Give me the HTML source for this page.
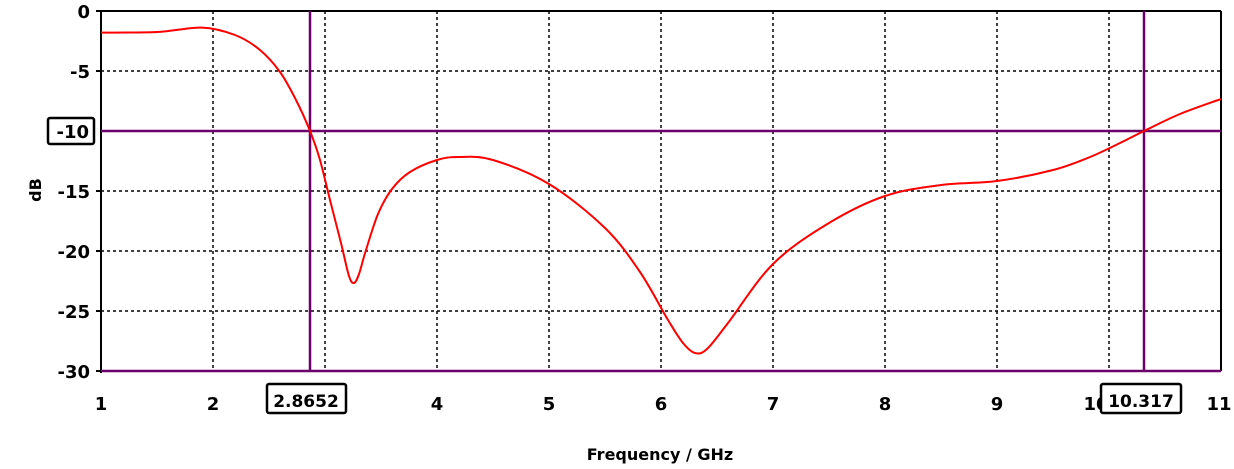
<!DOCTYPE html>
<html><head><style>body{margin:0;background:#fff}svg{display:block}text{font-family:"DejaVu Sans","Liberation Sans",sans-serif;font-weight:bold;fill:#000}</style></head>
<body>
<svg width="1234" height="469" xmlns="http://www.w3.org/2000/svg">
<g stroke="#000" stroke-width="1.5" stroke-dasharray="3,3">
<line x1="213" y1="11" x2="213" y2="371"/><line x1="325" y1="11" x2="325" y2="371"/><line x1="437" y1="11" x2="437" y2="371"/><line x1="549" y1="11" x2="549" y2="371"/><line x1="661" y1="11" x2="661" y2="371"/><line x1="773" y1="11" x2="773" y2="371"/><line x1="885" y1="11" x2="885" y2="371"/><line x1="997" y1="11" x2="997" y2="371"/><line x1="1109" y1="11" x2="1109" y2="371"/>
<line x1="101" y1="71" x2="1221" y2="71"/><line x1="101" y1="191" x2="1221" y2="191"/><line x1="101" y1="251" x2="1221" y2="251"/><line x1="101" y1="311" x2="1221" y2="311"/>
</g>
<g stroke="#000" stroke-width="2"><line x1="101" y1="11" x2="1221" y2="11"/><line x1="101" y1="11" x2="101" y2="373"/><line x1="1221" y1="11" x2="1221" y2="371"/>
<line x1="96" y1="11" x2="101" y2="11"/><line x1="96" y1="71" x2="101" y2="71"/><line x1="96" y1="191" x2="101" y2="191"/><line x1="96" y1="251" x2="101" y2="251"/><line x1="96" y1="311" x2="101" y2="311"/><line x1="96" y1="371" x2="101" y2="371"/></g>
<g stroke="#6b006b" stroke-width="2.5"><line x1="101" y1="131" x2="1221" y2="131"/><line x1="101" y1="371" x2="1221" y2="371"/><line x1="310" y1="11" x2="310" y2="371"/><line x1="1144" y1="11" x2="1144" y2="371"/></g>
<path id="curve" fill="none" stroke="#f00" stroke-width="2" stroke-linejoin="round" d="M101,32.6 L157,32 L202,27.8 L235,37.4 L269,65 L291,95 L310,131 L325,179 L342,239 L353,281 L364,251 L381,203 L403,173 L437,158.6 L459,156.2 L493,161 L549,187.4 L605,233 L661,311 L695,353 L728,323 L773,265.4 L829,224.6 L885,197 L941,186.2 L997,181.4 L1053,170.6 L1109,151.4 L1144,131 L1221,98.6"/>
<g font-size="18" text-anchor="end">
<text x="90" y="18">0</text><text x="90" y="78">-5</text><text x="90" y="198">-15</text><text x="90" y="258">-20</text><text x="90" y="318">-25</text><text x="90" y="378">-30</text></g>
<rect x="48" y="118" width="46" height="26" fill="#fff" stroke="#000" stroke-width="2.5" rx="2"/>
<text x="89" y="138" font-size="18" text-anchor="end">-10</text>
<g font-size="18" text-anchor="middle">
<text x="101" y="410">1</text><text x="213" y="410">2</text><text x="437" y="410">4</text><text x="549" y="410">5</text><text x="661" y="410">6</text><text x="773" y="410">7</text><text x="885" y="410">8</text><text x="997" y="410">9</text><text x="1096" y="410">10</text><text x="1219" y="410">11</text></g>
<rect x="267" y="384" width="79" height="29" fill="#fff" stroke="#000" stroke-width="2.5" rx="2"/>
<text x="306" y="407" font-size="17" text-anchor="middle">2.8652</text>
<rect x="1101" y="384" width="80" height="29" fill="#fff" stroke="#000" stroke-width="2.5" rx="2"/>
<text x="1141" y="407" font-size="17" text-anchor="middle">10.317</text>
<text x="660" y="460" font-size="16" text-anchor="middle">Frequency / GHz</text>
<text x="0" y="0" font-size="16" text-anchor="middle" transform="translate(41,190) rotate(-90)">dB</text>
</svg>
<script>
(function(){
var p=[[101,32.6],[157,32],[202,27.6],[235,35],[260,50],[280,72],[296,100],[310,131],[320,160],[330,200],[341,243],[349,276],[354,283],[359,274],[366,250],[378,214],[392,189],[410,172],[437,160],[459,157],[493,160],[549,184],[605,228],[640,272],[668,320],[683,343],[695,353],[707,349],[728,323],[773,264],[829,223],[885,196],[941,185],[997,181],[1053,170],[1090,157],[1120,143],[1144,131],[1180,114],[1221,99]];
var n=p.length;
var d="M"+p[0][0]+","+p[0][1];
for(var i=0;i!==n-1;i++){var a=p[Math.max(i-1,0)],b=p[i],c=p[i+1],e=p[Math.min(i+2,n-1)];
d+=" C"+(b[0]+(c[0]-a[0])/6).toFixed(1)+","+(b[1]+(c[1]-a[1])/6).toFixed(1)+" "+(c[0]-(e[0]-b[0])/6).toFixed(1)+","+(c[1]-(e[1]-b[1])/6).toFixed(1)+" "+c[0]+","+c[1];}
document.getElementById("curve").setAttribute("d",d);})();
</script>
</body></html>
